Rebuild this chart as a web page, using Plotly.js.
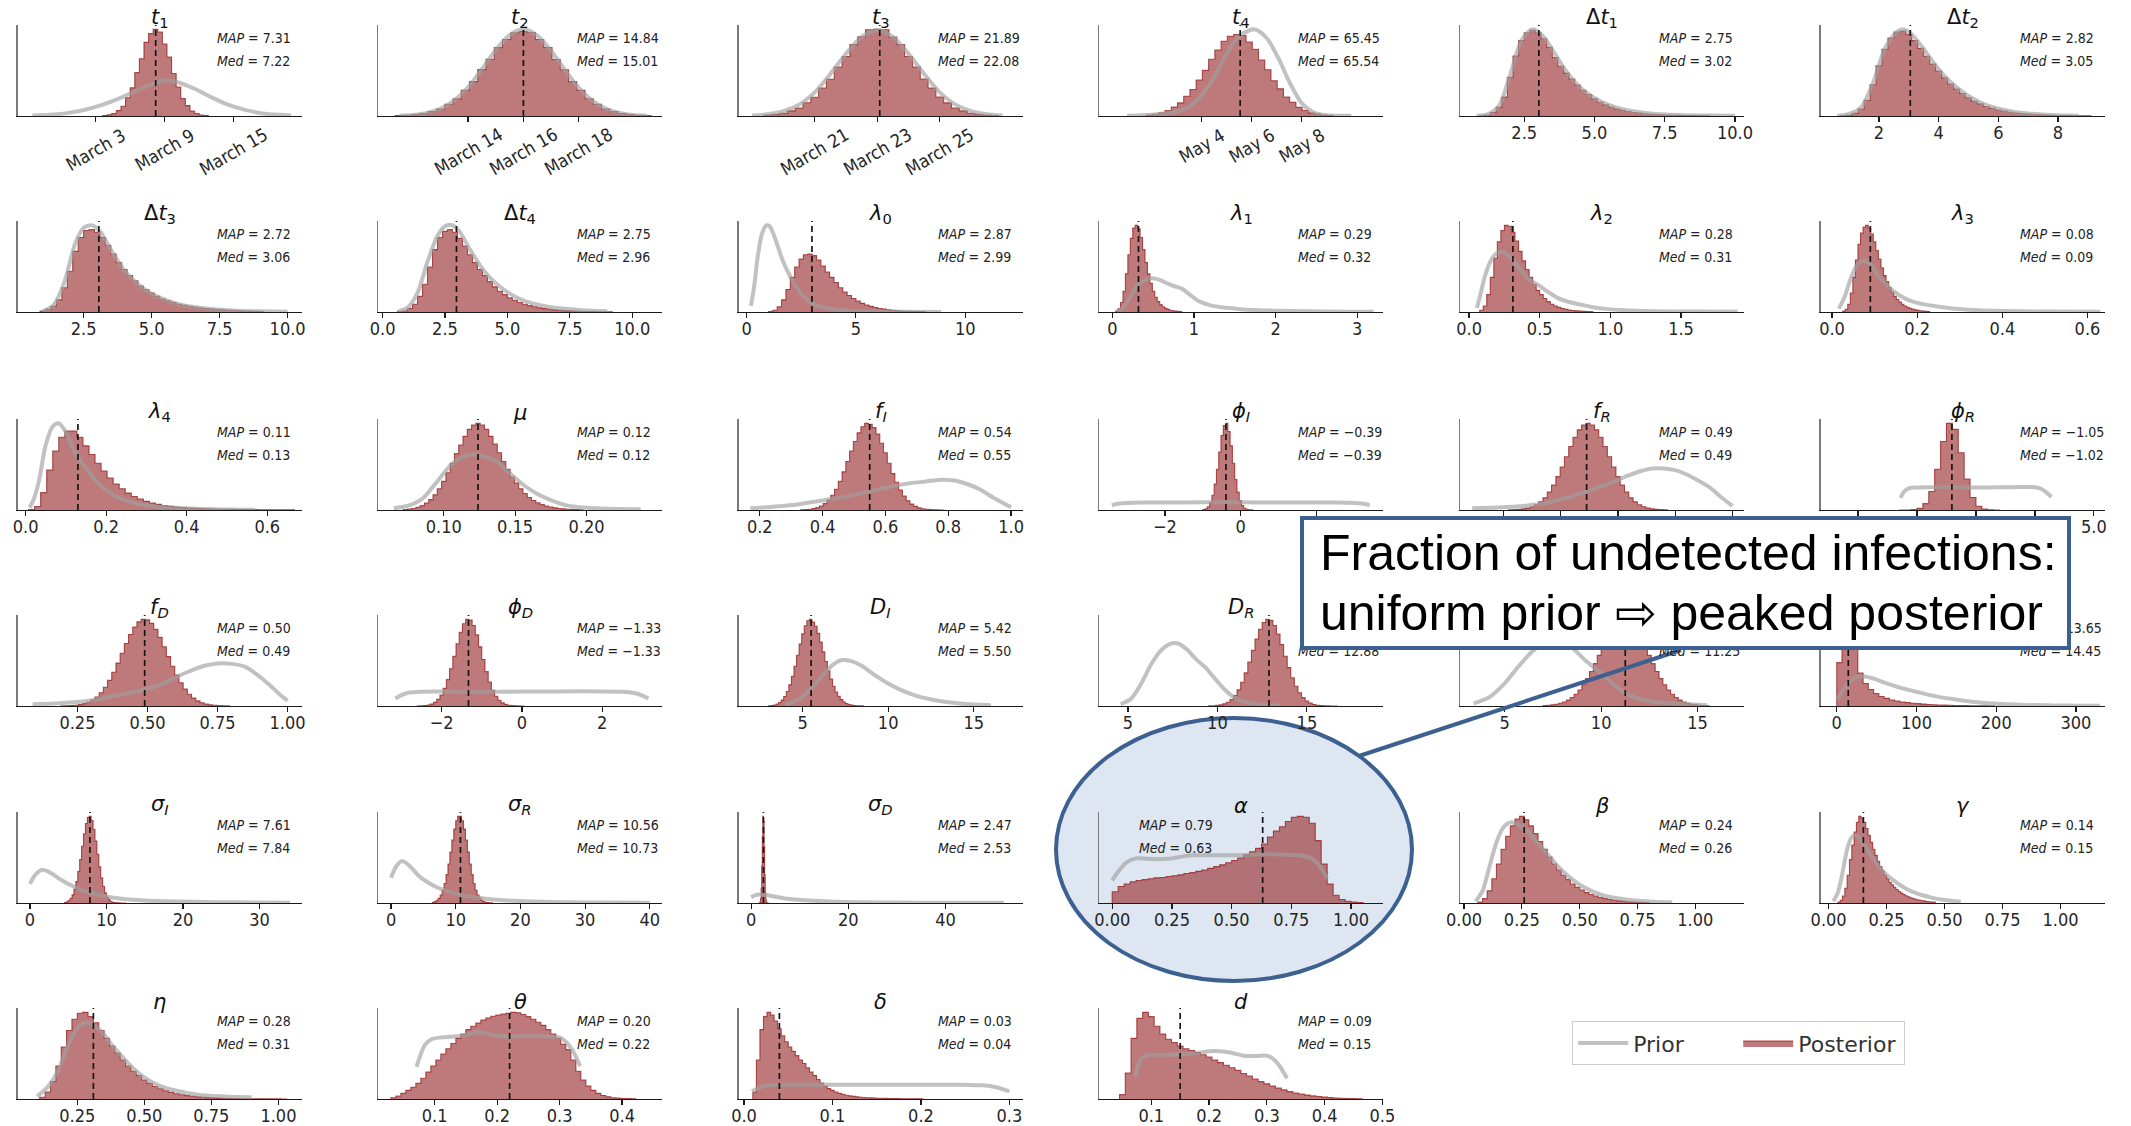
<!DOCTYPE html>
<html><head><meta charset="utf-8">
<script src="https://cdn.plot.ly/plotly-3.0.1.min.js"></script>
<style>html,body{margin:0;padding:0;background:#fff;}#chart{width:2131px;height:1126px;}</style>
</head><body><div id="chart"></div>
<script>
// ---------------- DATA ----------------
const panelTitles = [
 "<i>t</i><sub>1</sub>","<i>t</i><sub>2</sub>","<i>t</i><sub>3</sub>","<i>t</i><sub>4</sub>","Δ<i>t</i><sub>1</sub>","Δ<i>t</i><sub>2</sub>",
 "Δ<i>t</i><sub>3</sub>","Δ<i>t</i><sub>4</sub>","<i>λ</i><sub>0</sub>","<i>λ</i><sub>1</sub>","<i>λ</i><sub>2</sub>","<i>λ</i><sub>3</sub>",
 "<i>λ</i><sub>4</sub>","<i>μ</i>","<i>f</i><sub><i>I</i></sub>","<i>ϕ</i><sub><i>I</i></sub>","<i>f</i><sub><i>R</i></sub>","<i>ϕ</i><sub><i>R</i></sub>",
 "<i>f</i><sub><i>D</i></sub>","<i>ϕ</i><sub><i>D</i></sub>","<i>D</i><sub><i>I</i></sub>","<i>D</i><sub><i>R</i></sub>","","",
 "<i>σ</i><sub><i>I</i></sub>","<i>σ</i><sub><i>R</i></sub>","<i>σ</i><sub><i>D</i></sub>","<i>α</i>","<i>β</i>","<i>γ</i>",
 "<i>η</i>","<i>θ</i>","<i>δ</i>","<i>d</i>"
];
// MAP values (null = hidden behind the callout box in the reference)
const mapValues = [7.31,14.84,21.89,65.45,2.75,2.82, 2.72,2.75,2.87,0.29,0.28,0.08, 0.11,0.12,0.54,-0.39,0.49,-1.05,
 0.50,-1.33,5.42,null,null,13.65, 7.61,10.56,2.47,0.79,0.24,0.14, 0.28,0.20,0.03,0.09];
const medValues = [7.22,15.01,22.08,65.54,3.02,3.05, 3.06,2.96,2.99,0.32,0.31,0.09, 0.13,0.124,0.55,-0.39,0.49,-1.02,
 0.49,-1.33,5.50,12.88,11.25,14.45, 7.84,10.73,2.53,0.63,0.26,0.15, 0.31,0.22,0.04,0.15];
const medLabels = [7.22,15.01,22.08,65.54,3.02,3.05, 3.06,2.96,2.99,0.32,0.31,0.09, 0.13,0.12,0.55,-0.39,0.49,-1.02,
 0.49,-1.33,5.50,12.88,11.25,14.45, 7.84,10.73,2.53,0.63,0.26,0.15, 0.31,0.22,0.04,0.15];

// posterior histograms: first bin edge, bin width, bin heights
const postStart = [2.6,10.35,18.375,61.775,0.9,0.7, 0.9,0.6,1.0,0.04,0.075,0.025, 0.0075,0.0715,0.33,-1.0,0.2175,-3.25,
 0.1925,-2.6,3.0,9.5,7.0,0, 4.5,6.4,1.7,0,0.06,0.04, 0.11,0.03,0.01,0.045];
const postWidth = [0.4,0.3,0.25,0.25,0.2,0.2, 0.2,0.2,0.2,0.03,0.025,0.006, 0.015,0.003,0.012,0.06,0.015,0.25,
 0.015,0.08,0.15,0.2,0.2,6.6, 0.25,0.3,0.12,0.025,0.02,0.01, 0.02,0.008,0.004,0.01];
const postCounts = [
 [0.5,1.3,2.7,6.2,11.2,21,32.5,50,66,85,95,100,97,83,68,49,33.5,20,12,5.8,2.9,1.1,0.5],
 [0.4,0.8,1.6,2.8,5.2,8.3,13.8,20.2,30.3,40.5,54.6,66.8,80.5,90,98,99.5,98.2,90,80.6,66.5,54.5,40.4,30.2,20.3,13.9,8.3,5.1,2.8,1.6,0.8,0.4],
 [1,1.9,3.2,5.9,9.1,15.2,21.5,32,42,56,68,81.5,90.5,98.5,99,98.5,90.2,81.5,68,56,42.2,31.8,21.7,15,9.2,5.8,3.2,1.9,1,0.5],
 [1.1,2.1,3.8,6.2,10.3,15.1,22.8,30.6,41.5,52.6,65.4,76,86.2,92,94,92.8,85.3,77,64.6,53.4,40.6,31.3,22,15.7,9.9,6.4,3.6,2.2,1.1,0.6],
 [0.3,1.2,4,10,22,45,70,88,97,100,97,90,80,68,58,50,43,36,30,25,20,16,13,10.5,8.3,6.6,5.2,4.1,3.3,2.6,2.1,1.7,1.4,1.1,0.9,0.7,0.6,0.5,0.4,0.3,0.3],
 [0.3,1,3,8,18,36,58,77,90,97,98,94,87,78,69,60,52,44,37,31,26,21,17,14,11,8.8,7,5.6,4.4,3.5,2.8,2.2,1.7,1.3,1,0.8,0.6,0.5,0.4,0.3,0.2,0.2],
 [1,3,7,14,28,47,70,86,94,95,92,86,77,67,57,49,42,36,30,26,22,18,15,13,11,9,7.6,6.4,5.4,4.6,3.9,3.3,2.8,2.4,2,1.7,1.4,1.2,1,0.8,0.6],
 [0.5,1.5,4,9,18,32,52,72,86,93,95,92,85,76,66,57,49,42,35,29,24,20,16.5,13.5,11,9,7.3,6,4.8,3.9,3.1,2.5,2,1.6,1.3,1,0.8,0.6,0.5,0.4,0.3,0.2,0.2],
 [0.5,2,6,14,26,40,52,61,66,67,65,60,53,46,40,34,28,23,19,15.5,12.5,10,8,6.5,5.2,4.1,3.3,2.6,2,1.6,1.2,0.9,0.7,0.5,0.4,0.3],
 [1,4,11,24,44,66,85,97,100,96,86,72,57,44,33,24,17,12,8.5,6,4.2,3,2.1,1.5,1,0.7,0.5],
 [2,7,20,40,62,81,94,100,99,92,82,70,59,49,40,32,25,20,15.5,12,9,7,5.3,4,3,2.3,1.7,1.3,1,0.7,0.5,0.4],
 [1,3,9,22,40,60,78,91,98,100,97,90,81,71,61,51,42,35,28,23,18,14.5,11.5,9,7,5.5,4.2,3.3,2.5,1.9,1.4,1,0.8,0.6],
 [0.5,4,20,46,68,84,91,91,84,74,64,54,45,37,30,24.5,19.5,15.5,12.5,10,8,6.5,5.2,4.2,3.4,2.8,2.3,1.9,1.6,1.3,1.1,0.9,0.8,0.7,0.6,0.5,0.45,0.4,0.35,0.3,0.25,0.2,0.2,0.15],
 [0.6,1,1.8,3,5,8,12,17.5,24.5,33,43,54,65,75,85,93,98,100,98,93,85,76,66,56,47,38,31,24.5,19,14.5,11,8.3,6.2,4.6,3.4,2.5,1.8,1.3,0.9,0.7,0.5,0.3],
 [0.2,0.5,0.9,1.6,2.7,4.6,7.4,11.4,17,24,33,44,56,68,79,89,96,100,99,95,87.5,77,66,54,42,32,23,16,10.6,6.8,4.2,2.5,1.4,0.8,0.4,0.2,0.1,0.05],
 [0.6,1.5,3.8,8.5,17,30,47,67,86,97.5,100,90.6,74,54,35,20.6,10.8,5,2.1,0.8,0.3,0.1],
 [0.2,0.4,0.7,1.3,2.2,3.7,6,9.5,14.2,20.6,28.7,38.5,49.6,61.4,73.2,84,92.5,98,100,98,92.5,84,73.2,61.4,49.6,38.5,28.7,20.6,14.2,9.5,6,3.7,2.2,1.3,0.7,0.4,0.2],
 [0,0.05,0.4,1.9,7.3,21.4,47,79,100,93,66,35.7,14.4,4.4,1,0.2,0.05],
 [0.1,0.3,0.5,0.9,1.6,2.7,4.4,6.9,10.4,15.3,21.6,29.5,38.9,49.4,60.7,71.9,82.3,90.9,96.9,99.8,99.2,95.2,88.2,79,68.2,56.9,45.8,35.5,26.7,19.4,13.5,9.1,5.9,3.7,2.3,1.3,0.8,0.4,0.2,0.1],
 [0.1,0.2,0.5,1.1,2.2,4.2,7.6,12.7,20.2,30.3,42.8,57,71.5,84.7,94.6,99.6,98.9,92.5,81.7,68,53.4,39.5,27.5,18,11.2,6.6,3.6,1.9,0.9,0.4,0.2,0.1,0.05],
 [0.3,0.6,1.2,2.3,4,6.8,10.9,16.7,24.4,34.2,45.8,58.5,71.4,83.2,92.6,98.4,100,96.9,92,83.8,73.7,62.5,51.3,40.5,31,22.8,16.2,11.2,7.4,4.7,2.9,1.8,1,0.6,0.3,0.2,0.1],
 [0.1,0.3,0.7,1.3,2.5,4.4,7.5,12.1,18.6,27.3,38.1,50.6,64,77,88.3,96.2,99.8,98.6,92.7,82.9,70.7,57.3,44.2,32.5,22.7,15.2,9.6,5.8,3.3,1.8,0.9,0.5,0.2,0.1,0.05,0.02],
 [0.5,0.8,1.3,2,3.1,4.6,6.8,9.7,13.5,18.4,24.4,31.5,39.7,48.7,58.2,67.9,77.2,85.5,92.3,97.2,99.7,99.7,97.2,92.3,85.5,77.2,67.9,58.2,48.7,39.7,31.5,24.4,18.4,13.5,9.7,6.8,4.6,3.1,2,1.3,0.8,0.5,0.3],
 [50,92,100,70,38,26,19,14.5,11,8.8,7,5.8,4.7,3.9,3.2,2.7,2.2,1.8,1.5,1.2,1,0.8,0.65,0.5,0.4,0.3,0.25,0.2,0.15,0.1],
 [0.6,1.4,2.8,5.3,9.4,15.7,24.6,36.2,50.1,65.2,79.6,91.4,98.5,99.7,94.9,84.8,71.2,56.1,41.6,28.9,18.9,11.6,6.7,3.6,1.8,0.9,0.4,0.2,0.1,0.05,0.02,0.01],
 [0.8,1.6,3,5.3,9,14.6,22.3,32.5,44.7,58.3,72.2,84.7,94.2,99.3,99.3,94.2,84.7,72.2,58.3,44.7,32.5,22.3,14.6,9,5.3,3,1.6,0.8,0.4,0.2,0.1],
 [0.2,1.1,5,17,42,75,98,93,64,32,11.6,3.1,0.6,0.1,0.02],
 [13,19,22,24.5,26,27,28,29,29.5,30.5,31.5,32.5,34,35,36.5,38,40,42,44,46.5,49,52,55.5,59,63,68,76,83,88,94,99,100,99,92,72,45,22,9,4,2,1,0.5],
 [1,5,14,28,45,62,77,89,97,100,96,89,80,71,62,53,45,38,32,27,22,18,15,12,9.8,8,6.4,5.1,4,3.2,2.5,2,1.5,1.2,0.9,0.7,0.5],
 [1,3,8,17,32,50,67,82,93,100,98,93,86,78,70,62,55,48,42,37,32,28,24,21,18,15.5,13.3,11.4,9.8,8.4,7.2,6.1,5.2,4.4,3.7,3.1,2.6,2.2,1.8,1.5,1.2,1],
 [2,8,20,38,60,79,92,99,100,95,88,79,70,61,53,45,38,32,27,22,18,14.5,11.8,9.5,7.6,6.1,4.9,3.9,3.1,2.5,2,1.6,1.3,1.05,0.85,0.7,0.55,0.45,0.35,0.3,0.25,0.2,0.15,0.12,0.1,0.08],
 [1.5,3.5,6.5,10,13.5,18,24,31,38,45,52,58,64,70,75,80,84,87.5,91,93.5,95.5,97,98,99,100,99.5,97.5,95,92,88.5,85,80,75,70,63,57,45,32,22,15,10,6.5,4,2.5,1.5,1,0.6,0.4,0.2],
 [8,45,80,95,100,97,90,81,73,66,60,55,50,45,41,36,31,27,22.5,18.5,15,12,10,8,6.5,5.3,4.4,3.6,3,2.5,2.1,1.8,1.5,1.3,1.1,0.95,0.8,0.7,0.6,0.5,0.45,0.4,0.35,0.3,0.25,0.2,0.2,0.15],
 [5,30,70,93,100,95,84,75,69,65,61,58,56,53.5,51,48.5,45,42,39,36,33,29.5,26.5,23,20,17.5,15,12.5,10.5,8.5,7,5.6,4.5,3.6,2.8,2.2,1.6,1.2,0.9,0.6,0.4,0.3]
];

// prior density curves
const priorX = [
 [-3.5,-2,-0.5,1,2.5,4,5.5,7,8,9,10.5,12,13.5,15,16.5,18,19],
 [10.5,11,11.5,12,12.5,13,13.5,14,14.5,15,15.5,16,16.5,17,17.5,18,18.5,19,19.5],
 [18,18.5,19,19.5,20,20.5,21,21.5,22,22.5,23,23.5,24,24.5,25,25.5,26],
 [61,62,62.8,63.4,64,64.5,65,65.5,66.1,66.6,67.1,67.5,68,68.5,69,70],
 [0.8,1.2,1.6,2.0,2.4,2.8,3.2,3.6,4.0,4.5,5.0,5.5,6,6.5,7,8,9,10],
 [0.6,1.0,1.4,1.8,2.2,2.6,2.8,3.0,3.4,3.8,4.2,4.6,5,5.5,6,6.5,7,7.5,8,8.7],
 [1.0,1.4,1.8,2.2,2.5,2.8,3.1,3.5,4.0,4.5,5,5.5,6,7,8,9,10],
 [0.6,1.0,1.4,1.8,2.2,2.5,2.8,3.1,3.5,4.0,4.5,5,5.5,6,7,8,9],
 [0.2,0.35,0.5,0.7,0.9,1.05,1.2,1.4,1.6,1.8,2.0,2.3,2.6,3.0,3.5,4,5,6,7,8.9],
 [0.05,0.1,0.2,0.3,0.4,0.47,0.55,0.65,0.75,0.85,0.95,1.05,1.2,1.4,1.6,1.8,2.0,2.4,2.8,3.2],
 [0.055,0.08,0.11,0.15,0.19,0.24,0.3,0.37,0.43,0.5,0.57,0.63,0.71,0.79,0.87,0.95,1.1,1.3,1.6,1.9],
 [0.016,0.03,0.045,0.06,0.075,0.09,0.105,0.12,0.145,0.17,0.19,0.22,0.26,0.32,0.4,0.5,0.63],
 [0.01,0.02,0.033,0.05,0.067,0.082,0.1,0.12,0.147,0.176,0.21,0.256,0.313,0.39,0.47,0.57],
 [0.065,0.075,0.085,0.095,0.105,0.113,0.12,0.128,0.137,0.145,0.155,0.165,0.175,0.187,0.2,0.215,0.238],
 [0.17,0.25,0.33,0.4,0.47,0.53,0.58,0.63,0.68,0.73,0.78,0.82,0.86,0.9,0.94,0.97,1.0],
 [-3.4,-3.2,-3.0,-2.5,-2,-1,0,1,2,2.5,3.0,3.2,3.4],
 [0.09,0.18,0.27,0.35,0.42,0.48,0.53,0.58,0.63,0.68,0.72,0.76,0.8,0.84,0.88,0.92,0.96,1.0],
 [-3.2,-3.05,-2.85,-2.5,-2,-1,0,1,2,2.5,2.8,3.0,3.2],
 [0.09,0.17,0.25,0.32,0.39,0.45,0.5,0.55,0.6,0.65,0.7,0.75,0.8,0.85,0.9,0.94,0.97,1.0],
 [-3.15,-3.0,-2.8,-2.5,-2,-1,0,1,2,2.5,2.8,3.0,3.15],
 [4.0,4.8,5.6,6.2,6.8,7.3,7.8,8.4,9.2,10.0,10.8,11.6,12.4,13.4,14.5,16],
 [4.6,5.2,5.8,6.3,6.8,7.3,7.8,8.3,8.8,9.3,9.8,10.4,11.0,11.7,12.5,13.5],
 [3.4,4.2,5.0,5.7,6.4,7.0,7.6,8.1,8.6,9.2,10.0,10.8,11.6,12.6,13.9,15.5],
 [0,5,12,20,28,35,45,60,80,100,120,145,170,200,235,270,305,330],
 [0,0.5,1,1.5,2.2,3,4,5,6.5,8,10,12,15,19,24,29,34],
 [0,0.5,1,1.6,2.3,3.2,4.3,5.6,7.1,9,11,13,15,18,22,27,33,40],
 [0,0.8,1.6,2.5,3.5,5,7,9,12,16,22,30,40,52],
 [0.0,0.03,0.06,0.1,0.15,0.2,0.25,0.3,0.35,0.4,0.5,0.6,0.7,0.78,0.83,0.86,0.88,0.9],
 [0.05,0.08,0.11,0.14,0.17,0.2,0.23,0.27,0.31,0.35,0.4,0.45,0.5,0.55,0.6,0.7,0.8,0.9],
 [0.02,0.04,0.06,0.08,0.1,0.12,0.14,0.17,0.2,0.24,0.28,0.33,0.38,0.44,0.5,0.57],
 [0.1,0.14,0.18,0.21,0.24,0.27,0.3,0.34,0.38,0.42,0.46,0.5,0.55,0.6,0.7,0.8,0.9],
 [0.071,0.078,0.085,0.095,0.11,0.13,0.15,0.165,0.18,0.2,0.22,0.25,0.28,0.3,0.31,0.32,0.333],
 [0.009,0.015,0.022,0.03,0.05,0.1,0.15,0.2,0.25,0.27,0.285,0.3],
 [0.072,0.078,0.085,0.095,0.11,0.13,0.15,0.18,0.2,0.22,0.24,0.26,0.28,0.3,0.31,0.32,0.335]
];
const priorY = [
 [0.7,1.5,3.3,7,12.5,20,29,37,41,39.5,32,22,13,7,3,1.3,0.7],
 [0.4,1.3,3.5,8.6,18.5,34,55,77.5,95,102,95,77.5,55,34,18.5,8.6,3.5,1.3,0.4],
 [0.6,2,5.5,13,27,48,71,90.5,98,90.5,71,48,27,13,5.5,2,0.6],
 [0.3,1.5,4,9,24,45,72,92,100,90,65,40,15,4,1,0.2],
 [0.2,2,12,48,88,101,92,72,52,33,21,13,8,5,3,1.2,0.5,0.2],
 [0.3,2.5,10,38,78,97,100,97,82,63,46,33,23,14,8.5,5,3,1.8,1,0.4],
 [1,8,35,80,97,100,93,72,48,32,21,14,9,4,1.8,0.8,0.3],
 [0.5,5,22,58,88,99,100,92,72,50,34,23,15,10,4.5,2,0.8],
 [7,30,62,90,100,99,92,78,63,51,41,28,18,10,5.5,3,1.2,0.6,0.3,0.1],
 [0.5,2.7,14,30,37,39,38,34,30,27,20,13,7.7,4.8,3,2,1.5,0.8,0.4,0.2],
 [4.6,20,40,58,67,69,62,47,37,30,22,16,11.5,8.5,5.8,3.9,2,1,0.5,0.2],
 [3.9,18,40,55,59,55,44,36,24,16,12,8.5,5.5,2.7,1.2,0.5,0.2],
 [2.7,12,33,75,96,100,90,69,50,33,19.5,10,4.6,2,0.8,0.3],
 [2,5,13,32,52,61,64,62,56,44,30,19,11.5,5,2.5,1.5,1],
 [2,4,7,11,15,20,24,28,31,33,35,34,30,24,15,9,3.3],
 [5.5,7.5,8.2,8.6,8.7,8.8,8.8,8.7,8.6,8.6,8.2,7.5,5.5],
 [2,3,4.7,8,14,20,26,32,39,45,48,48,46,41,34,26,15,4.7],
 [14,21,25,26,26.3,26.2,26,26.2,26.5,26.2,24,20,15],
 [2,3,4.6,7.5,12,16,20,25,33,40,46,49,48.5,45,34,23,14,6],
 [8.5,12.5,15.5,16.5,16.7,16.3,16.6,16.8,16.8,16.5,15,12,8.5],
 [1,8,22,36,48,53,52,47,36,26,18,12,8,4.5,2.2,1],
 [2,9,28,48,63,71,72,65,54,45,33,19,9,4,1.5,0.5],
 [3,10,26,45,62,72,76,74,65,52,38,22,11,5,3,1],
 [7,14,24,31,34,34,32,27,21,16.5,12,8,5,2.5,1.2,0.7,0.4,0.3],
 [22,30,35,38,37,33,27,22,16,11.5,7.5,5,3,1.8,1,0.6,0.4],
 [29,38,44,48,46,40,31,24,18,13,9,6.5,4.5,2.8,1.6,0.9,0.5,0.3],
 [6.6,8.6,9.6,9.6,8.8,7,5.2,4,2.8,1.7,0.9,0.5,0.3,0.2],
 [26,38,47,51.5,51,50.5,51.5,54,55,55,55,56,56,55,52,46,38,28],
 [2,14,42,70,87,93,91,84,72,60,44,31,21,14,9,4,1.8,0.8],
 [2,12,35,62,76,78,72,60,48,35,26,17,11,6.5,3.5,1.5],
 [3,14,34,58,77,87,87,78,62,48,35,25,16,11,5,3,2],
 [37,52,63,69,71,72,74,77,76,73,72,73,72,71,66,57,38],
 [8.8,12,14.5,16,16.5,16.5,16.4,16.4,16.3,15.8,13.5,8.8],
 [26,40,48,50.5,51,51,51.5,53,55,55,53,50,49.5,50,47,40,24]
];

// axes: visible x ranges, tick values and tick labels ("" = label hidden under the callout box)
const xRanges = [
 [-4.8,19.9],[9.73,20.05],[17.57,26.65],[59.89,71.28],[0.21,10.32],[0.04,9.56],
 [0.07,10.51],[-0.18,11.2],[-0.36,12.63],[-0.16,3.32],[-0.065,1.945],[-0.027,0.64],
 [-0.02,0.685],[0.054,0.253],[0.133,1.037],[-3.73,3.76],[0.047,1.04],[-6.59,5.45],
 [0.036,1.05],[-3.58,3.49],[1.27,17.86],[3.4,19.27],[2.68,17.4],[-20.4,335.8],
 [-1.63,35.5],[-2,41.9],[-2.56,55.9],[-0.054,1.135],[-0.018,1.21],[-0.035,1.19],
 [0.027,1.086],[0.0096,0.464],[-0.006,0.315],[0.010,0.5016]
];
const tickVals = [
 [2,8,14],[13,15,17],[20,22,24],[64,66,68],[2.5,5,7.5,10],[2,4,6,8],
 [2.5,5,7.5,10],[0,2.5,5,7.5,10],[0,5,10],[0,1,2,3],[0,0.5,1,1.5],[0,0.2,0.4,0.6],
 [0,0.2,0.4,0.6],[0.1,0.15,0.2],[0.2,0.4,0.6,0.8,1.0],[-2,0,2],[0.2,0.4,0.6,0.8,1.0],[-5,-2.5,0,2.5,5],
 [0.25,0.5,0.75,1],[-2,0,2],[5,10,15],[5,10,15],[5,10,15],[0,100,200,300],
 [0,10,20,30],[0,10,20,30,40],[0,20,40],[0,0.25,0.5,0.75,1],[0,0.25,0.5,0.75,1],[0,0.25,0.5,0.75,1],
 [0.25,0.5,0.75,1],[0.1,0.2,0.3,0.4],[0,0.1,0.2,0.3],[0.1,0.2,0.3,0.4,0.5]
];
const tickLabels = [
 ["March 3","March 9","March 15"],["March 14","March 16","March 18"],["March 21","March 23","March 25"],["May 4","May 6","May 8"],
 ["2.5","5.0","7.5","10.0"],["2","4","6","8"],
 ["2.5","5.0","7.5","10.0"],["0.0","2.5","5.0","7.5","10.0"],["0","5","10"],["0","1","2","3"],["0.0","0.5","1.0","1.5"],["0.0","0.2","0.4","0.6"],
 ["0.0","0.2","0.4","0.6"],["0.10","0.15","0.20"],["0.2","0.4","0.6","0.8","1.0"],["−2","0",""],["","","","",""],["","","","","5.0"],
 ["0.25","0.50","0.75","1.00"],["−2","0","2"],["5","10","15"],["5","10","15"],["5","10","15"],["0","100","200","300"],
 ["0","10","20","30"],["0","10","20","30","40"],["0","20","40"],["0.00","0.25","0.50","0.75","1.00"],["0.00","0.25","0.50","0.75","1.00"],["0.00","0.25","0.50","0.75","1.00"],
 ["0.25","0.50","0.75","1.00"],["0.1","0.2","0.3","0.4"],["0.0","0.1","0.2","0.3"],["0.1","0.2","0.3","0.4","0.5"]
];
const legendLabels = ["Prior","Posterior"];
const calloutLines = ["Fraction of undetected infections:", "uniform prior ⇨ peaked posterior"];

// ---------------- LAYOUT / DRAWING ----------------
const W = 2131, H = 1126;
const COND = "'DejaVu Sans Condensed', 'DejaVu Sans', sans-serif";
const colLeft = c => 17.5 + c * 360.6;
const rowTop = [25, 221, 419, 615, 812, 1008];
const axW = 284, axH = 91;
const px = x => x / W, py = y => 1 - y / H;
const fmt = v => v.toFixed(2).replace('-', '−');

const traces = [], annotations = [], shapes = [];
const layout = {
  width: W, height: H, autosize: false,
  margin: {l: 0, r: 0, t: 0, b: 0, pad: 0},
  paper_bgcolor: '#ffffff', plot_bgcolor: 'rgba(0,0,0,0)',
  showlegend: true,
  legend: {x: px(1572), y: py(1021), xanchor: 'left', yanchor: 'top', orientation: 'h',
           bgcolor: '#ffffff', bordercolor: '#cccccc', borderwidth: 1.2,
           font: {family: "'DejaVu Sans', sans-serif", size: 22, color: '#333333'}, traceorder: 'normal',
           itemwidth: 50, entrywidth: 100},
  annotations: annotations, shapes: shapes
};

for (let i = 0; i < panelTitles.length; i++) {
  const r = Math.floor(i / 6), c = i % 6;
  const xa = i === 0 ? 'x' : 'x' + (i + 1);
  const ya = i === 0 ? 'y' : 'y' + (i + 1);
  const L = colLeft(c), T = rowTop[r];
  const counts = postCounts[i], n = counts.length;
  const s = postStart[i], w = postWidth[i];
  const ymax = Math.max(...counts, ...priorY[i]) * 1.05;

  // posterior step histogram
  const hx = [s], hy = [0];
  for (let k = 0; k < n; k++) { hx.push(s + k * w); hy.push(counts[k]); }
  hx.push(s + n * w); hy.push(counts[n - 1]);
  hx.push(s + n * w); hy.push(0);
  traces.push({type: 'scatter', mode: 'lines', x: hx, y: hy, xaxis: xa, yaxis: ya,
    line: {shape: 'hv', color: 'rgba(150,25,25,0.75)', width: 1.1},
    fill: 'tozeroy', fillcolor: 'rgba(150,40,40,0.62)',
    name: legendLabels[1], legendrank: 2, showlegend: i === 0, hoverinfo: 'skip'});
  // prior curve
  traces.push({type: 'scatter', mode: 'lines', x: priorX[i], y: priorY[i], xaxis: xa, yaxis: ya,
    line: {shape: 'spline', smoothing: 0.8, color: 'rgba(160,160,160,0.65)', width: 4},
    name: legendLabels[0], legendrank: 1, showlegend: i === 0, hoverinfo: 'skip'});
  // median
  traces.push({type: 'scatter', mode: 'lines', x: [medValues[i], medValues[i]], y: [0, ymax], xaxis: xa, yaxis: ya,
    line: {color: '#151515', width: 1.7, dash: '6px,4px'}, showlegend: false, hoverinfo: 'skip'});

  const rotated = i < 4;
  layout[i === 0 ? 'xaxis' : 'xaxis' + (i + 1)] = {
    domain: [px(L), px(L + axW)], range: xRanges[i], anchor: ya,
    showline: true, linecolor: '#1a1a1a', linewidth: 1.4,
    ticks: 'outside', ticklen: 5, tickwidth: 1.2, tickcolor: '#1a1a1a',
    tickmode: 'array', tickvals: tickVals[i], ticktext: tickLabels[i],
    showticklabels: !rotated, ticklabelstandoff: -5,
    tickfont: {family: COND, size: 18, color: '#262626'},
    showgrid: false, zeroline: false, fixedrange: true
  };
  layout[i === 0 ? 'yaxis' : 'yaxis' + (i + 1)] = {
    domain: [py(T + axH), py(T)], range: [0, ymax], anchor: xa,
    showline: true, linecolor: '#7a7a7a', linewidth: 1.4,
    showticklabels: false, ticks: '', showgrid: false, zeroline: false, fixedrange: true
  };

  if (rotated) {
    tickVals[i].forEach((v, k) => annotations.push({
      xref: xa, yref: 'paper', x: v, y: py(T + axH + 5), xanchor: 'center', yanchor: 'top',
      text: tickLabels[i][k], textangle: -30, showarrow: false,
      font: {family: COND, size: 18, color: '#262626'}
    }));
  }

  if (panelTitles[i]) annotations.push({
    xref: 'paper', yref: 'paper', x: px(L + axW / 2), y: py(T), xanchor: 'center', yanchor: 'bottom',
    yshift: -8, text: panelTitles[i], showarrow: false,
    font: {family: "'DejaVu Sans', sans-serif", size: 21, color: '#111111'}
  });

  const tx = (i === 27) ? L + 38 : L + 197;
  if (mapValues[i] !== null) annotations.push({xref: 'paper', yref: 'paper', x: px(tx), y: py(T + 13), xanchor: 'left', yanchor: 'middle',
    text: '<i>MAP</i> = ' + fmt(mapValues[i]), showarrow: false, font: {family: COND, size: 14, color: '#222222'}});
  annotations.push({xref: 'paper', yref: 'paper', x: px(tx), y: py(T + 36), xanchor: 'left', yanchor: 'middle',
    text: '<i>Med</i> = ' + fmt(medLabels[i]), showarrow: false, font: {family: COND, size: 14, color: '#222222'}});
}

// highlight ellipse around alpha panel, connector, callout box
shapes.push({type: 'circle', xref: 'paper', yref: 'paper', layer: 'below',
  x0: px(1056), x1: px(1412), y0: py(981), y1: py(718),
  fillcolor: '#dde6f1', line: {color: '#3c6191', width: 4}});
shapes.push({type: 'line', xref: 'paper', yref: 'paper', layer: 'above',
  x0: px(1359), y0: py(756), x1: px(1681), y1: py(650),
  line: {color: '#3c6191', width: 4}});
// callout frame (white background hides what lies beneath, as in the reference)
annotations.push({xref: 'paper', yref: 'paper', x: px(1300), y: py(516), xanchor: 'left', yanchor: 'top',
  text: ' ', showarrow: false, width: 763, height: 126, borderpad: 0, borderwidth: 4,
  bordercolor: '#3c6191', bgcolor: '#ffffff', font: {size: 10}});
annotations.push({xref: 'paper', yref: 'paper', x: px(1318), y: py(553), xanchor: 'left', yanchor: 'middle',
  text: calloutLines[0], showarrow: false, font: {family: "'Liberation Sans', Arial, sans-serif", size: 50, color: '#000000'}});
annotations.push({xref: 'paper', yref: 'paper', x: px(1318), y: py(613), xanchor: 'left', yanchor: 'middle',
  text: calloutLines[1], showarrow: false, font: {family: "'Liberation Sans', Arial, sans-serif", size: 50, color: '#000000'}});

Plotly.newPlot('chart', traces, layout, {staticPlot: true, displayModeBar: false});
</script></body></html>
